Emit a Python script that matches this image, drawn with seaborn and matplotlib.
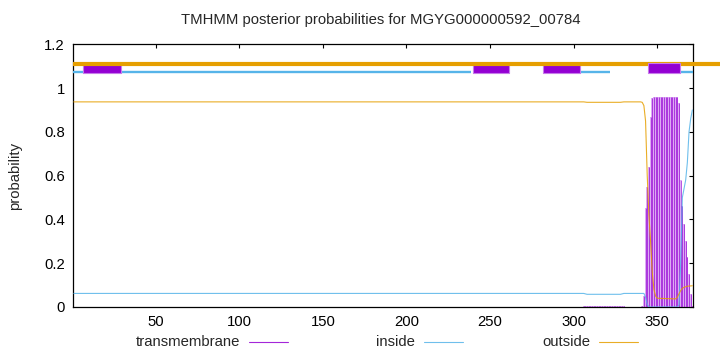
import matplotlib
matplotlib.use("Agg")
import matplotlib.pyplot as plt
import seaborn as sns
import pandas as pd
from matplotlib.lines import Line2D

# ---- data ----
title = "TMHMM posterior probabilities for MGYG000000592_00784"
x_ticks = [50, 100, 150, 200, 250, 300, 350]
y_ticks = [0, 0.2, 0.4, 0.6, 0.8, 1.0, 1.2]
y_tick_labels = ["0", "0.2", "0.4", "0.6", "0.8", "1", "1.2"]

# predicted topology (top bars)
tm_starts = [7, 240, 282, 345]
tm_ends = [29, 261, 303, 363]
inside_starts = [1, 30, 305, 365]
inside_ends = [6, 238, 321, 371]
seq_len = 371

# posterior probability curves
outside_x = [1, 306, 308, 328, 330, 340, 341, 342, 343, 344, 345, 346, 347, 348,
             349, 350, 361, 362, 363, 364, 365, 366, 368, 371]
outside_p = [0.937, 0.937, 0.935, 0.935, 0.937, 0.937, 0.935, 0.92, 0.85, 0.6,
             0.42, 0.3, 0.16, 0.08, 0.05, 0.04, 0.037, 0.045, 0.06, 0.075,
             0.085, 0.09, 0.095, 0.097]
inside_x = [1, 306, 308, 328, 330, 342, 343, 344, 345, 362, 363, 364, 365, 366,
            367, 368, 369, 370, 371]
inside_p = [0.062, 0.062, 0.058, 0.058, 0.062, 0.062, 0.045, 0.012, 0.0, 0.0,
            0.01, 0.2, 0.5, 0.54, 0.58, 0.66, 0.8, 0.86, 0.9]

tm_res = list(range(306, 372))
tm_prob = ([0.004] * 25 + [0.002] * 10 +
           [0.003, 0.05, 0.45, 0.55, 0.64, 0.87, 0.955] +
           [0.96] * 15 +
           [0.93, 0.58, 0.46, 0.38, 0.30, 0.23, 0.15, 0.06, 0.005])

# ---- styling ----
PURPLE = "#9400D3"
PURPLE_LIGHT = "#DCAAF4"
BLUE = "#56B4E9"
ORANGE = "#E69F00"
FS = 10.7

sns.set_theme(style="white")
plt.rcParams["font.family"] = ["Liberation Sans", "DejaVu Sans"]
plt.rcParams["font.size"] = FS

fig = plt.figure(figsize=(7.2, 3.52), dpi=100)
ax = fig.add_axes([73.3 / 720, 1 - 307 / 352, (692.7 - 73.3) / 720, (307 - 44.3) / 352])

# transmembrane impulses
ax.bar(tm_res, tm_prob, width=1.0, color=PURPLE_LIGHT, linewidth=0, zorder=2)
ax.vlines(tm_res, 0, tm_prob, color=PURPLE, lw=0.55, alpha=0.85, zorder=3)

df_in = pd.DataFrame({"pos": inside_x, "p": inside_p})
df_out = pd.DataFrame({"pos": outside_x, "p": outside_p})
sns.lineplot(data=df_in, x="pos", y="p", ax=ax, color=BLUE, lw=0.8, alpha=0.85, zorder=4)
sns.lineplot(data=df_out, x="pos", y="p", ax=ax, color=ORANGE, lw=0.8, alpha=0.85, zorder=4)

# topology bars at the top
ax.plot([0.5, 390], [1.111, 1.111], color=ORANGE, lw=3.0, solid_capstyle="butt",
        clip_on=False, zorder=5)
for s, e in zip(inside_starts, inside_ends):
    ax.plot([s - 0.5, min(e + 0.5, seq_len + 0.2)], [1.072, 1.072], color=BLUE,
            lw=1.7, solid_capstyle="butt", zorder=4)
for i, (s, e) in enumerate(zip(tm_starts, tm_ends)):
    ax.fill_between([s - 0.5, e + 0.5], 1.068, 1.113, color=PURPLE,
                    edgecolor="#C77BEA", lw=0.8,
                    zorder=6 if i == len(tm_starts) - 1 else 4.5)

ax.set_xlim(0.7, 371.2)
ax.set_ylim(0, 1.2)
ax.set_xticks(x_ticks)
ax.set_xticklabels([str(t) for t in x_ticks])
ax.set_yticks(y_ticks)
ax.set_yticklabels(y_tick_labels)
ax.set_xlabel("")
ax.set_ylabel("probability", fontsize=FS, labelpad=16)
ax.tick_params(direction="in", length=3, width=0.8, top=True, right=True,
               labelsize=FS, colors="black", pad=6)
for sp in ax.spines.values():
    sp.set_visible(True)
    sp.set_color("black")
    sp.set_linewidth(0.9)

fig.text(381 / 720, 1 - 20 / 352, title, ha="center", va="center", fontsize=FS)

# legend in gnuplot style (text then line sample)
legend_items = [("transmembrane", PURPLE, 240, 249, 288),
                ("inside", BLUE, 415, 424, 463),
                ("outside", ORANGE, 590, 599, 638)]
ly = 1 - 342 / 352
for label, col, tx, l0, l1 in legend_items:
    fig.text(tx / 720, ly, label, ha="right", va="center", fontsize=FS)
    fig.add_artist(Line2D([l0 / 720, l1 / 720], [ly, ly], color=col, lw=0.8,
                          alpha=0.85, transform=fig.transFigure))

fig.savefig("out.png", dpi=100)
